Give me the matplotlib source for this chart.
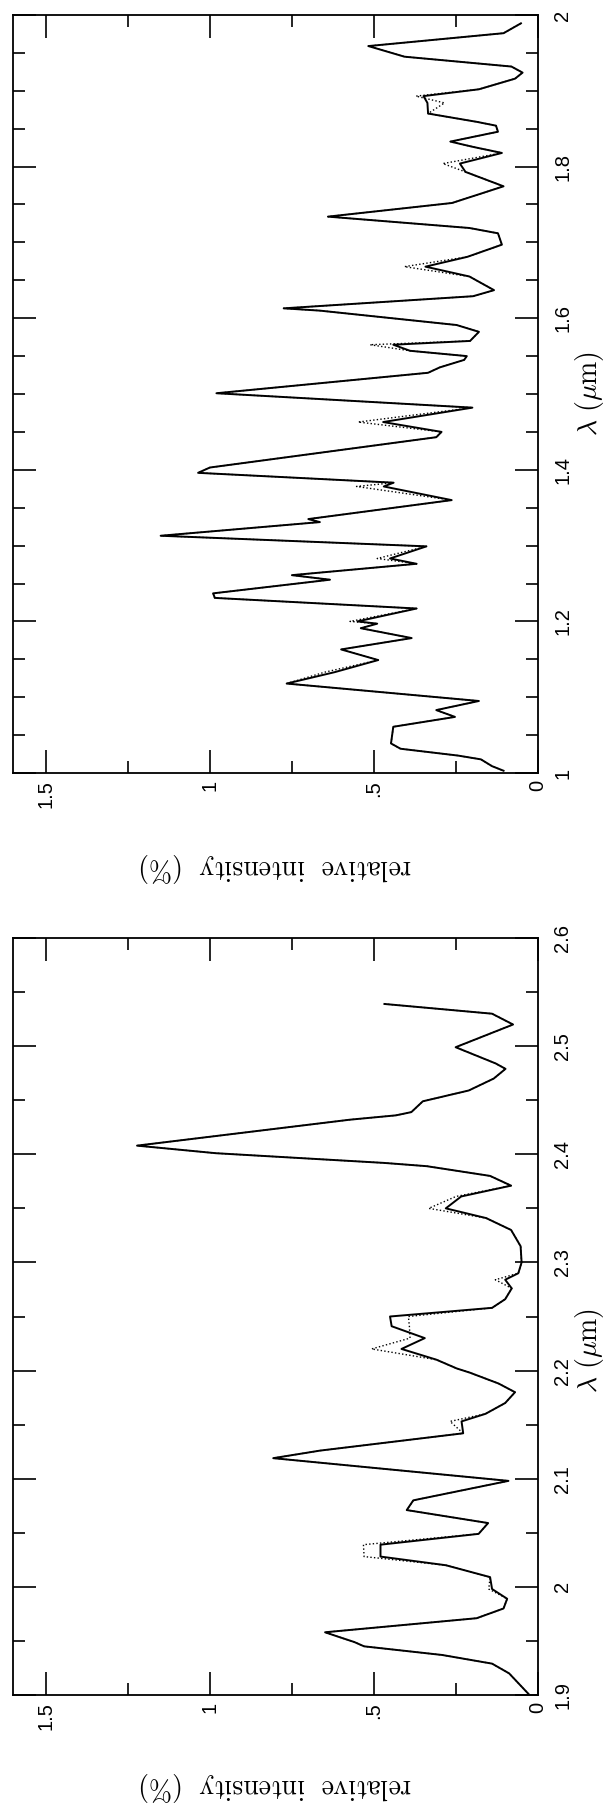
import matplotlib
matplotlib.use('Agg')
import matplotlib.pyplot as plt
from matplotlib.ticker import FixedLocator, FixedFormatter, MultipleLocator

plt.rcParams['mathtext.fontset'] = 'cm'
plt.rcParams['font.family'] = ['Liberation Sans', 'DejaVu Sans']

# ---------------- data ----------------
# upper panel (1.0 - 2.0 um)
lam_top = [1.989, 1.976, 1.959, 1.945, 1.932, 1.924, 1.916, 1.902, 1.893, 1.884,
           1.870, 1.859, 1.854, 1.846, 1.833, 1.826, 1.818, 1.804, 1.793, 1.774,
           1.752, 1.734, 1.719, 1.712, 1.697, 1.681, 1.668, 1.655, 1.637, 1.629,
           1.613, 1.610, 1.591, 1.582, 1.570, 1.565, 1.557, 1.550, 1.545, 1.535,
           1.528, 1.501, 1.482, 1.463, 1.450, 1.443, 1.403, 1.396, 1.383, 1.378,
           1.360, 1.335, 1.331, 1.313, 1.299, 1.283, 1.276, 1.261, 1.255, 1.237,
           1.231, 1.217, 1.200, 1.197, 1.191, 1.178, 1.163, 1.149, 1.133, 1.118,
           1.095, 1.083, 1.074, 1.061, 1.039, 1.032, 1.023, 1.018, 1.009, 1.003]
int_top_solid = [0.052, 0.105, 0.517, 0.407, 0.081, 0.047, 0.070, 0.180, 0.349, 0.337,
                 0.335, 0.186, 0.128, 0.122, 0.267, 0.198, 0.110, 0.238, 0.221, 0.105,
                 0.262, 0.640, 0.209, 0.122, 0.110, 0.215, 0.343, 0.209, 0.134, 0.198,
                 0.775, 0.665, 0.248, 0.180, 0.207, 0.441, 0.390, 0.217, 0.225, 0.300,
                 0.335, 0.980, 0.200, 0.472, 0.294, 0.310, 1.000, 1.036, 0.440, 0.470,
                 0.263, 0.700, 0.665, 1.150, 0.340, 0.451, 0.370, 0.750, 0.634, 0.990,
                 0.985, 0.370, 0.550, 0.490, 0.540, 0.385, 0.600, 0.487, 0.620, 0.766,
                 0.180, 0.310, 0.253, 0.441, 0.448, 0.419, 0.244, 0.174, 0.140, 0.105]
int_top_dotted = [0.052, 0.105, 0.517, 0.407, 0.081, 0.047, 0.070, 0.180, 0.372, 0.285,
                  0.335, 0.186, 0.128, 0.122, 0.267, 0.198, 0.110, 0.290, 0.221, 0.105,
                  0.262, 0.640, 0.209, 0.122, 0.110, 0.215, 0.407, 0.209, 0.134, 0.198,
                  0.775, 0.665, 0.248, 0.180, 0.207, 0.512, 0.390, 0.217, 0.225, 0.300,
                  0.335, 0.980, 0.200, 0.548, 0.294, 0.310, 1.000, 1.036, 0.440, 0.553,
                  0.263, 0.700, 0.665, 1.150, 0.340, 0.490, 0.370, 0.750, 0.634, 0.990,
                  0.985, 0.370, 0.573, 0.490, 0.540, 0.385, 0.600, 0.487, 0.650, 0.766,
                  0.180, 0.310, 0.253, 0.441, 0.448, 0.419, 0.244, 0.174, 0.140, 0.105]

# lower panel (1.9 - 2.6 um)
lam_bot = [2.539, 2.530, 2.520, 2.499, 2.484, 2.479, 2.470, 2.459, 2.449, 2.439,
           2.436, 2.432, 2.408, 2.401, 2.392, 2.389, 2.380, 2.371, 2.361, 2.350,
           2.341, 2.330, 2.315, 2.300, 2.290, 2.284, 2.276, 2.266, 2.258, 2.250,
           2.241, 2.230, 2.220, 2.210, 2.202, 2.198, 2.188, 2.180, 2.170, 2.160,
           2.153, 2.142, 2.126, 2.119, 2.098, 2.080, 2.071, 2.059, 2.049, 2.039,
           2.028, 2.020, 2.009, 1.998, 1.989, 1.980, 1.971, 1.958, 1.954, 1.949,
           1.945, 1.937, 1.929, 1.920, 1.901]
int_bot_solid = [0.468, 0.140, 0.076, 0.251, 0.129, 0.099, 0.135, 0.211, 0.351, 0.386,
                 0.433, 0.573, 1.222, 0.982, 0.468, 0.339, 0.146, 0.082, 0.234, 0.281,
                 0.158, 0.082, 0.053, 0.050, 0.060, 0.100, 0.080, 0.100, 0.140, 0.451,
                 0.446, 0.345, 0.416, 0.309, 0.248, 0.207, 0.120, 0.070, 0.100, 0.160,
                 0.233, 0.228, 0.664, 0.807, 0.090, 0.380, 0.400, 0.152, 0.181, 0.480,
                 0.480, 0.281, 0.146, 0.140, 0.094, 0.105, 0.187, 0.649, 0.610, 0.560,
                 0.530, 0.292, 0.140, 0.088, 0.029]
int_bot_dotted = [0.468, 0.140, 0.076, 0.251, 0.129, 0.099, 0.135, 0.211, 0.351, 0.386,
                  0.433, 0.573, 1.222, 0.982, 0.468, 0.339, 0.146, 0.082, 0.250, 0.333,
                  0.158, 0.082, 0.053, 0.050, 0.060, 0.130, 0.080, 0.100, 0.140, 0.395,
                  0.392, 0.390, 0.507, 0.309, 0.248, 0.207, 0.120, 0.070, 0.100, 0.160,
                  0.268, 0.228, 0.664, 0.807, 0.090, 0.380, 0.400, 0.152, 0.181, 0.532,
                  0.530, 0.281, 0.146, 0.150, 0.094, 0.105, 0.187, 0.649, 0.610, 0.560,
                  0.530, 0.292, 0.140, 0.088, 0.029]

int_ticks = [0.0, 0.5, 1.0, 1.5]
int_ticklabels = ['0', '.5', '1', '1.5']
int_minor = [0.25, 0.75, 1.25]
lam_ticks_top = [1.0, 1.2, 1.4, 1.6, 1.8, 2.0]
lam_ticklabels_top = ['1', '1.2', '1.4', '1.6', '1.8', '2']
lam_ticks_bot = [1.9, 2.0, 2.1, 2.2, 2.3, 2.4, 2.5, 2.6]
lam_ticklabels_bot = ['1.9', '2', '2.1', '2.2', '2.3', '2.4', '2.5', '2.6']

xlabel_text = r'$\lambda\ (\mu\mathrm{m})$'
ylabel_text = r'$\mathrm{relative\ \ intensity\ \ (\%)}$'

# ---------------- figure ----------------
W, H = 603, 1805
fig = plt.figure(figsize=(W / 100, H / 100), dpi=100)


def px_rect(x0, y0, x1, y1):
    return [x0 / W, 1 - y1 / H, (x1 - x0) / W, (y1 - y0) / H]


panels = [
    (px_rect(13, 15, 538, 773), (1.0, 2.0), lam_top, int_top_solid, int_top_dotted,
     lam_ticks_top, lam_ticklabels_top, 393, 867),
    (px_rect(13, 938, 538, 1695), (1.9, 2.6), lam_bot, int_bot_solid, int_bot_dotted,
     lam_ticks_bot, lam_ticklabels_bot, 1350, 1787),
]

for rect, ylim, lam, solid, dotted, lt, ltl, xl_y, yl_y in panels:
    ax = fig.add_axes(rect)
    ax.plot(dotted, lam, color='black', lw=1.0, ls=(0, (1, 1.6)))
    ax.plot(solid, lam, color='black', lw=1.4)
    ax.set_xlim(1.6, 0.0)
    ax.set_ylim(*ylim)
    ax.xaxis.set_major_locator(FixedLocator(int_ticks))
    ax.xaxis.set_major_formatter(FixedFormatter(int_ticklabels))
    ax.xaxis.set_minor_locator(FixedLocator(int_minor))
    ax.yaxis.set_major_locator(FixedLocator(lt))
    ax.yaxis.set_major_formatter(FixedFormatter(ltl))
    ax.yaxis.set_minor_locator(MultipleLocator(0.05))
    ax.tick_params(which='both', direction='in', top=True, bottom=True,
                   left=True, right=True, labelleft=False, labelright=True,
                   labelbottom=True, labeltop=False, width=1.2, colors='black')
    ax.tick_params(which='major', length=16.5)
    ax.tick_params(which='minor', length=8.5)
    ax.tick_params(axis='x', labelrotation=90, pad=5, labelsize=14.5)
    ax.tick_params(axis='y', labelrotation=90, pad=11, labelsize=14.5)
    for lab in ax.get_yticklabels():
        lab.set_va('center')
    for sp in ax.spines.values():
        sp.set_linewidth(1.3)
    fig.text(590 / W, 1 - xl_y / H, xlabel_text, rotation=90, ha='center',
             va='center', fontsize=20)
    fig.text(276 / W, 1 - yl_y / H, ylabel_text, rotation=180, ha='center',
             va='center', fontsize=20)

fig.savefig('out.png', dpi=100)
